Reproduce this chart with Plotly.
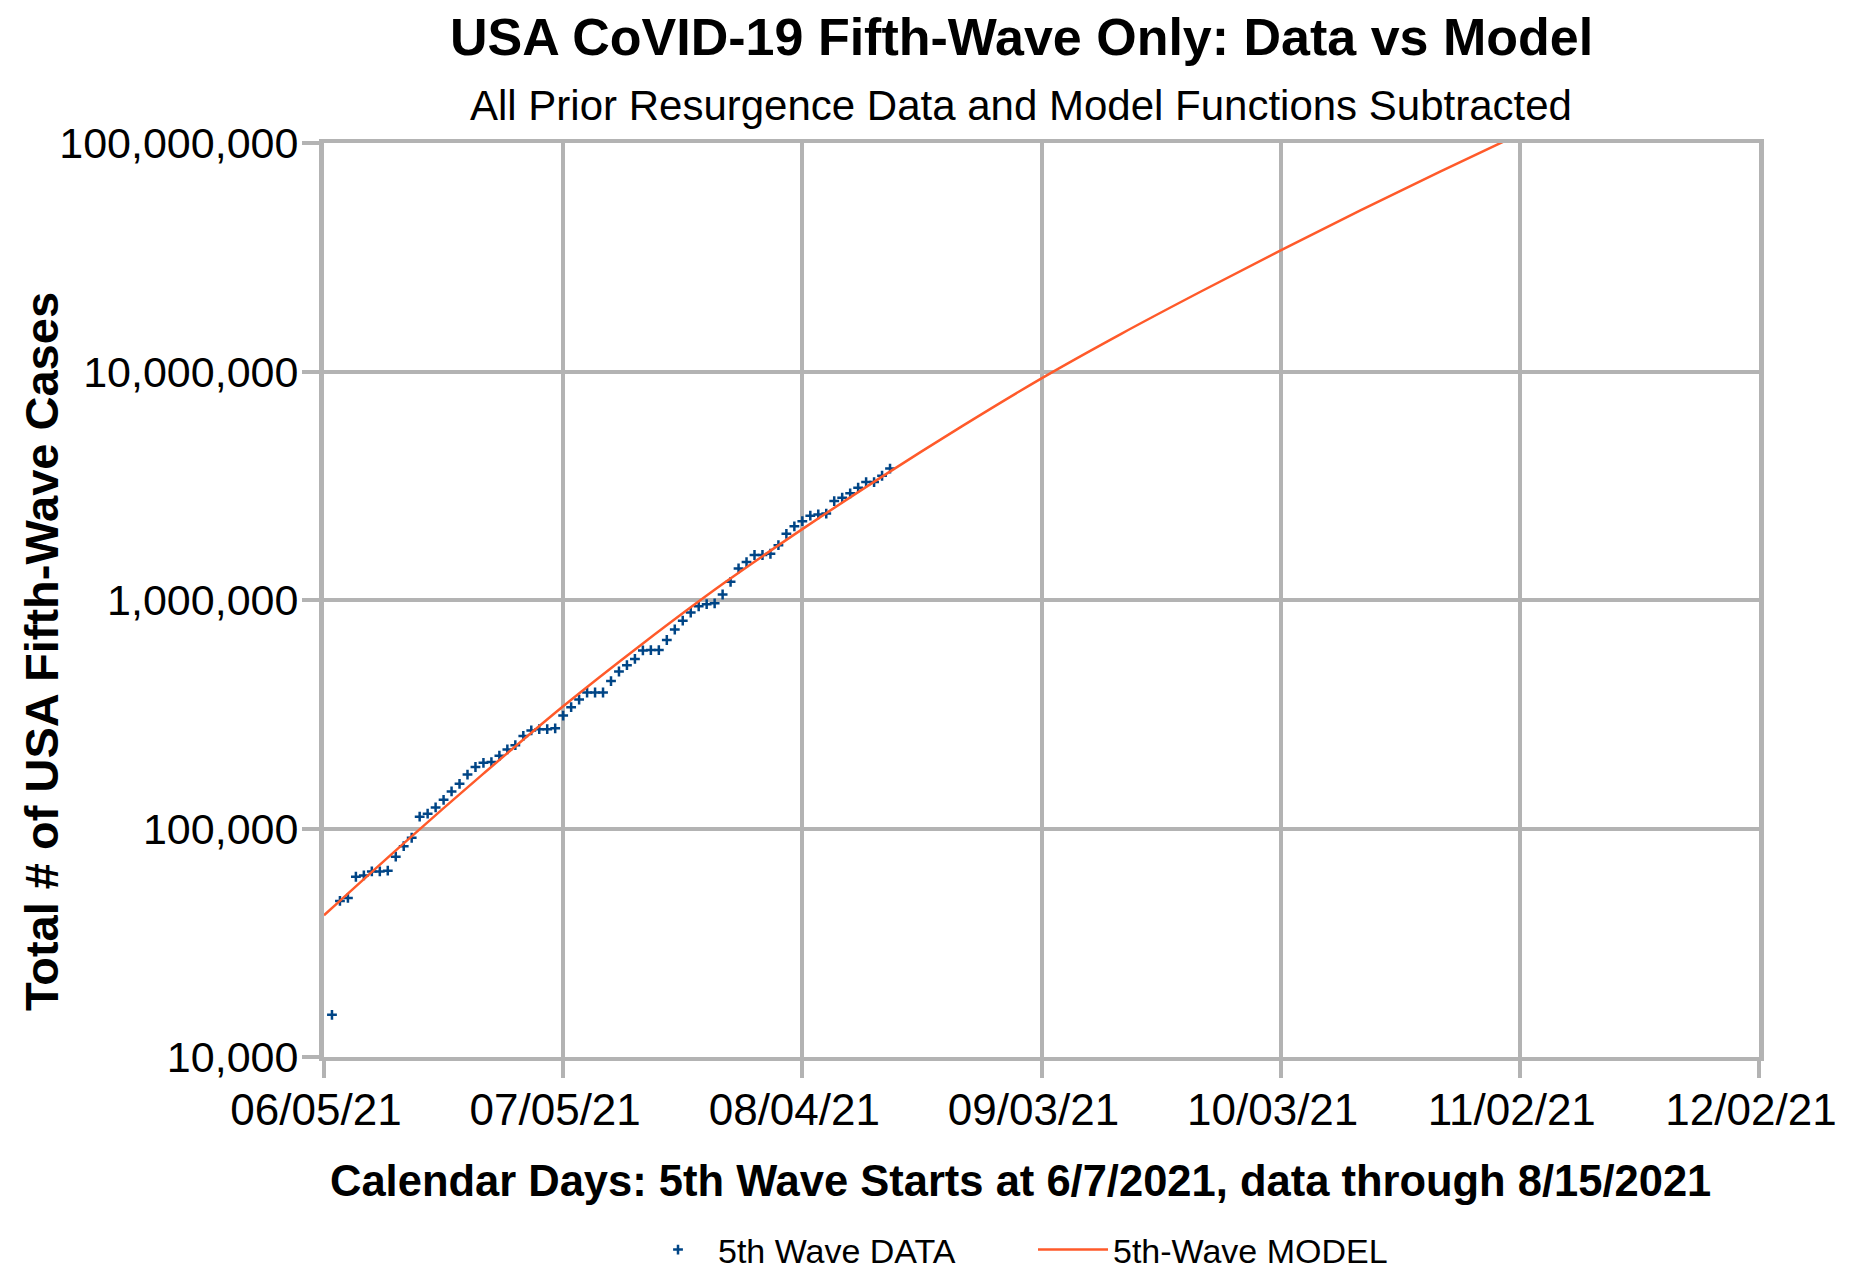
import datetime as dt
import plotly.graph_objects as go

# ---------------- data ----------------
start = dt.date(2021, 6, 5)

data_day = list(range(1, 72))  # days after 06/05/21  (06/06 .. 08/15)
data_cases = [
    15300, 48200, 49700, 61500, 62300, 64900, 64900, 65400, 75300, 83700,
    91100, 112700, 116100, 123700, 133500, 145300, 156800, 172100, 185800, 193800,
    195300, 208200, 221800, 231500, 254300, 268600, 272000, 272000, 274500, 311900,
    339600, 366500, 393800, 393800, 393800, 441600, 486600, 518400, 552000, 601600,
    604000, 604000, 668400, 743000, 812000, 880700, 939000, 959000, 967000, 1057000,
    1201000, 1375000, 1465000, 1574000, 1574000, 1594000, 1737000, 1948000, 2102000, 2213000,
    2338000, 2368000, 2388000, 2710000, 2804000, 2929000, 3103000, 3280000, 3280000, 3497000,
    3758000,
]

model_day = [0, 10, 20, 30, 40, 50, 60, 70, 80, 90, 100, 110, 120, 130, 140, 150]
model_cases = [
    41700, 86100, 173800, 342800, 645700, 1175000, 2042000, 3467000,
    5754000, 9333000, 14620000, 22390000, 33880000, 50700000, 74990000, 109600000,
]

x_tick_days = [0, 30, 60, 90, 120, 150, 180]
y_tick_vals = [1e4, 1e5, 1e6, 1e7, 1e8]
y_tick_text = ["10,000", "100,000", "1,000,000", "10,000,000", "100,000,000"]

title_text = "USA CoVID-19 Fifth-Wave Only: Data vs Model"
subtitle_text = "All Prior Resurgence Data and Model Functions Subtracted"
x_title = "Calendar Days: 5th Wave Starts at 6/7/2021, data through 8/15/2021"
y_title = "Total # of USA Fifth-Wave Cases"

# ---------------- figure ----------------
def to_date(d):
    return (start + dt.timedelta(days=d)).isoformat()

data_x = [to_date(d) for d in data_day]
model_x = [to_date(d) for d in model_day]
tick_x = [to_date(d) for d in x_tick_days]
tick_lbl = [(start + dt.timedelta(days=d)).strftime("%m/%d/%y") for d in x_tick_days]

FONT = "Liberation Sans, Arial, sans-serif"
GRID = "#b3b3b3"

W, H = 1854, 1271
L, R, T, B = 324, 95, 143, 214
pw, ph = W - L - R, H - T - B


def px(xp):
    return (xp - L) / pw


def py(yp):
    return (H - B - yp) / ph


fig = go.Figure()
fig.add_trace(go.Scatter(
    x=data_x, y=data_cases, mode="markers", name="5th Wave DATA",
    marker=dict(symbol="cross-thin", size=7, color="#004586",
                line=dict(color="#004586", width=2.5)),
))
fig.add_trace(go.Scatter(
    x=model_x, y=model_cases, mode="lines", name="5th-Wave MODEL",
    line=dict(color="#ff5a2a", width=2.5, shape="spline"),
))

fig.update_layout(
    width=W, height=H,
    margin=dict(l=L, r=R, t=T, b=B, autoexpand=False),
    paper_bgcolor="white", plot_bgcolor="white",
    font=dict(family=FONT, color="black"),
    showlegend=True,
    legend=dict(orientation="h", x=px(1033), xanchor="center", y=py(1250),
                yanchor="middle", font=dict(size=34, family=FONT),
                itemwidth=70, entrywidth=310, entrywidthmode="pixels",
                bgcolor="rgba(0,0,0,0)"),
    xaxis=dict(type="date", range=[tick_x[0], tick_x[-1]],
               tickmode="array", tickvals=tick_x, ticktext=tick_lbl,
               tickfont=dict(size=44, family=FONT, color="black"),
               ticklabelshift=-8, ticklabelstandoff=-6,
               ticks="outside", ticklen=17, tickwidth=4, tickcolor=GRID,
               showgrid=True, gridcolor=GRID, gridwidth=4,
               showline=True, linecolor=GRID, linewidth=4, mirror=True,
               zeroline=False, automargin=False),
    yaxis=dict(type="log", range=[4, 8],
               tickmode="array", tickvals=y_tick_vals, ticktext=y_tick_text,
               tickfont=dict(size=43, family=FONT, color="black"),
               ticklabelstandoff=-5,
               ticks="outside", ticklen=17, tickwidth=4, tickcolor=GRID,
               showgrid=True, gridcolor=GRID, gridwidth=4,
               showline=True, linecolor=GRID, linewidth=5, mirror=True,
               zeroline=False, automargin=False),
    annotations=[
        dict(text="<b>" + title_text + "</b>", xref="paper", yref="paper",
             x=px(1021), y=py(37), xanchor="center", yanchor="middle",
             showarrow=False, font=dict(size=52, family=FONT, color="black")),
        dict(text=subtitle_text, xref="paper", yref="paper",
             x=px(1021), y=py(106), xanchor="center", yanchor="middle",
             showarrow=False, font=dict(size=42, family=FONT, color="black")),
        dict(text="<b>" + x_title + "</b>", xref="paper", yref="paper",
             x=px(1020), y=py(1181), xanchor="center", yanchor="middle",
             showarrow=False, font=dict(size=43.5, family=FONT, color="black")),
        dict(text="<b>" + y_title + "</b>", xref="paper", yref="paper",
             x=px(41), y=py(652), xanchor="center", yanchor="middle",
             textangle=-90, showarrow=False,
             font=dict(size=47, family=FONT, color="black")),
    ],
)

fig.write_html(
    "out.html",
    config={"displayModeBar": False},
    post_script="document.body.style.margin='0';document.body.style.overflow='hidden';",
)
